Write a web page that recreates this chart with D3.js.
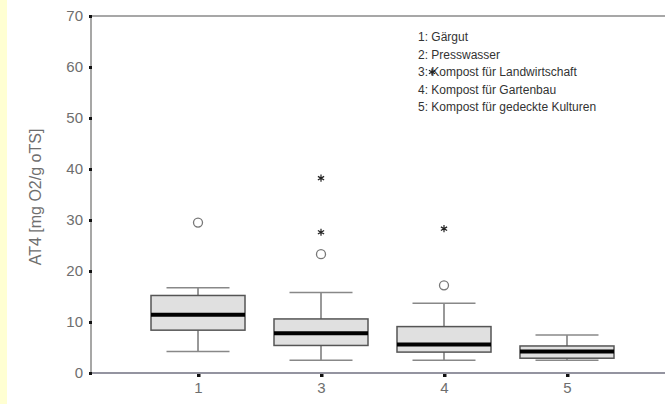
<!DOCTYPE html>
<html><head><meta charset="utf-8">
<script src="https://cdn.jsdelivr.net/npm/d3@7"></script>
<style>
body{margin:0;background:#fff;}
svg{display:block;}
svg text{font-family:"Liberation Sans",Arimo,sans-serif;}
</style></head>
<body>
<svg id="c" width="665" height="404"></svg>
<script>
const categories = ["1","3","4","5"];
const whiskerLow  = [4.2, 2.5, 2.5, 2.5];
const q1          = [8.4, 5.4, 4.1, 2.9];
const median      = [11.4, 7.8, 5.6, 4.2];
const q3          = [15.2, 10.6, 9.1, 5.3];
const whiskerHigh = [16.7, 15.8, 13.7, 7.45];
const outliersCircle = [[29.5], [23.3], [17.2], []];
const outliersStar   = [[], [38.2, 27.6], [28.3], []];
const yTicks = [0,10,20,30,40,50,60,70];
const legendItems = ["1: Gärgut","2: Presswasser","3: Kompost für Landwirtschaft","4: Kompost für Gartenbau","5: Kompost für gedeckte Kulturen"];
const yLabel = "AT4 [mg O2/g oTS]";

const FONT = '"Liberation Sans",Arimo,sans-serif';
const svg = d3.select("#c");
svg.append("rect").attr("x",0).attr("y",0).attr("width",7).attr("height",404).attr("fill","#ffffd2");

const y = d3.scaleLinear().domain([0,70]).range([373,16]);
const x = d3.scalePoint().domain(categories).range([91,674]).padding(0.87);

const axisColor = "#707080";
svg.append("line").attr("x1",91).attr("x2",665).attr("y1",y(70)).attr("y2",y(70)).attr("stroke","#8a8a8a").attr("stroke-width",1.5);
svg.append("line").attr("x1",91).attr("x2",665).attr("y1",y(0)).attr("y2",y(0)).attr("stroke",axisColor).attr("stroke-width",1.5);
svg.append("line").attr("x1",91).attr("x2",91).attr("y1",y(70)).attr("y2",y(0)).attr("stroke","#8a8a88").attr("stroke-width",1.5);

const yAxis = d3.axisLeft(y).tickValues(yTicks).tickSize(0).tickPadding(8);
const gy = svg.append("g").attr("transform","translate(91,0)").call(yAxis);
gy.attr("font-family",FONT).attr("font-size",15);
gy.select(".domain").remove();
gy.selectAll("text").attr("fill","#6e6e6e");
gy.selectAll(".tick").append("rect").attr("x",-2).attr("y",-1.5).attr("width",3).attr("height",3).attr("fill","#111");

const xAxis = d3.axisBottom(x).tickSize(0).tickPadding(9);
const gx = svg.append("g").attr("transform",`translate(0,${y(0)})`).call(xAxis);
gx.attr("font-family",FONT).attr("font-size",15);
gx.select(".domain").remove();
gx.selectAll("text").attr("fill","#6e6e6e");
gx.selectAll(".tick").append("rect").attr("x",-1.5).attr("y",1).attr("width",3.5).attr("height",3).attr("fill","#111");

svg.append("text").attr("transform","translate(41,197) rotate(-90)").attr("text-anchor","middle")
  .attr("fill","#6e6e6e").attr("font-size",16).text(yLabel);

const bw = 94, cw = 63;
const star = d3.symbol().type(d3.symbolAsterisk).size(36);
function drawStar(g, cx, cy){
  g.append("path").attr("d", star()).attr("transform",`translate(${cx},${cy})`)
   .attr("stroke","#222").attr("stroke-width",1.2).attr("fill","none");
}

categories.forEach((c,i)=>{
  const cx = x(c);
  const g = svg.append("g");
  g.append("line").attr("x1",cx).attr("x2",cx).attr("y1",y(whiskerHigh[i])).attr("y2",y(q3[i])).attr("stroke","#777").attr("stroke-width",1.5);
  g.append("line").attr("x1",cx).attr("x2",cx).attr("y1",y(q1[i])).attr("y2",y(whiskerLow[i])).attr("stroke","#777").attr("stroke-width",1.5);
  g.append("line").attr("x1",cx-cw/2).attr("x2",cx+cw/2).attr("y1",y(whiskerHigh[i])).attr("y2",y(whiskerHigh[i])).attr("stroke","#888").attr("stroke-width",1.5);
  g.append("line").attr("x1",cx-cw/2).attr("x2",cx+cw/2).attr("y1",y(whiskerLow[i])).attr("y2",y(whiskerLow[i])).attr("stroke","#888").attr("stroke-width",1.5);
  g.append("rect").attr("x",cx-bw/2).attr("width",bw).attr("y",y(q3[i])).attr("height",y(q1[i])-y(q3[i]))
   .attr("fill","#e0e0e0").attr("stroke","#555").attr("stroke-width",1.5);
  g.append("line").attr("x1",cx-bw/2).attr("x2",cx+bw/2).attr("y1",y(median[i])).attr("y2",y(median[i])).attr("stroke","#000").attr("stroke-width",4);
  outliersCircle[i].forEach(v=>{
    g.append("circle").attr("cx",cx).attr("cy",y(v)).attr("r",4.5).attr("fill","#fff").attr("stroke","#777").attr("stroke-width",1.3);
  });
  outliersStar[i].forEach(v=> drawStar(g, cx, y(v)));
});

const lg = svg.append("g");
legendItems.forEach((t,i)=>{
  lg.append("text").attr("x",418).attr("y",41+i*17.5).attr("fill","#333").attr("font-size",12).text(t);
});
drawStar(lg, 432, 37+2*17.5);
</script>
</body></html>
